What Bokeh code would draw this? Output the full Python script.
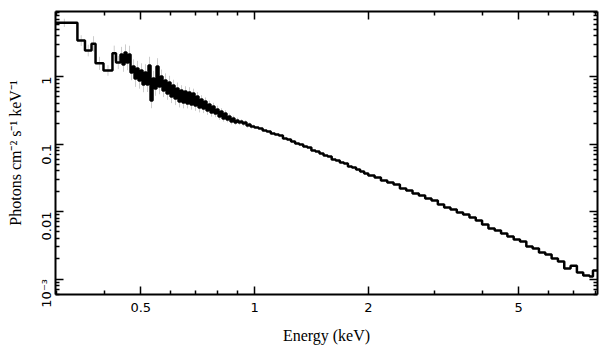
import math
import numpy as np
from bokeh.plotting import figure
from bokeh.models import FixedTicker, LogAxis, Range1d, CustomJSTickFormatter
from bokeh.embed import file_html
from bokeh.resources import INLINE

# ---- spectrum data (keV bin lower edges, photons cm^-2 s^-1 keV^-1) ----
lo_soft = [0.29, 0.340, 0.356, 0.3705, 0.3797, 0.3985, 0.4209, 0.4301]
flux_soft = [6.25, 3.41, 2.43, 3.05, 1.57, 1.23, 2.21, 1.61]

lo_mid = [0.4421, 0.4475, 0.4530, 0.4585, 0.4642, 0.4699, 0.4756, 0.4815, 0.4874, 0.4933,
          0.4994, 0.5055, 0.5117, 0.5180, 0.5243, 0.5308, 0.5373, 0.5439, 0.5505, 0.5573,
          0.5641, 0.5710, 0.5780, 0.5851, 0.5923, 0.5995, 0.6069, 0.6143, 0.6219, 0.6295,
          0.6372, 0.6450, 0.6529, 0.6609, 0.6690, 0.6772, 0.6855, 0.6939, 0.7024, 0.7110,
          0.7197, 0.7286, 0.7375, 0.7465, 0.7557, 0.7650, 0.7743, 0.7838, 0.7934, 0.8032,
          0.8130, 0.8230, 0.8330, 0.8432, 0.8536, 0.8640, 0.8746, 0.8853, 0.8962, 0.9072,
          0.9183, 0.9296, 0.9410, 0.9525, 0.9642, 0.9760, 0.9880]
flux_mid = [2.118, 1.506, 2.268, 1.612, 2.118, 1.146, 1.406, 0.934, 1.314, 0.872,
            1.227, 0.761, 1.146, 0.761, 1.455, 0.441, 0.934, 0.664, 1.406, 0.711,
            1.0, 0.620, 0.872, 0.560, 0.815, 0.505, 0.736, 0.472, 0.664, 0.426,
            0.620, 0.412, 0.5995, 0.398, 0.579, 0.385, 0.560, 0.372, 0.505, 0.347,
            0.456, 0.336, 0.426, 0.3135, 0.385, 0.293, 0.359, 0.283, 0.3245, 0.2555,
            0.303, 0.2387, 0.283, 0.2307, 0.2555, 0.2154, 0.2387, 0.2083, 0.2229, 0.2083,
            0.2154, 0.2012, 0.2083, 0.1879, 0.1945, 0.1816, 0.1816]

lo_hard1 = [1.0, 1.0251, 1.0507, 1.0770, 1.1040, 1.1317, 1.1600, 1.1891, 1.2189, 1.2494,
            1.2807, 1.3128, 1.3457, 1.3794, 1.4140, 1.4494, 1.4857, 1.5229, 1.5611, 1.6002,
            1.6403, 1.6814, 1.7235, 1.7667, 1.8110, 1.8563, 1.9028, 1.9505]
flux_hard1 = [0.1756, 0.1697, 0.1585, 0.1532, 0.1430, 0.1382, 0.1336, 0.1206, 0.1166, 0.1089,
              0.1017, 0.0983, 0.0918, 0.0887, 0.0801, 0.0774, 0.0723, 0.0675, 0.0653, 0.0589,
              0.0569, 0.0532, 0.0514, 0.0464, 0.0449, 0.0419, 0.0391, 0.0366]

lo_hard2 = [2.0, 2.0785, 2.1601, 2.2449, 2.3330, 2.4246, 2.5198, 2.6187, 2.7215, 2.8284,
            2.9395, 3.0549, 3.1748, 3.2995, 3.4290, 3.5636, 3.7035, 3.8489, 4.0, 4.1570,
            4.3203, 4.4898, 4.6661, 4.8492, 5.0397, 5.2375, 5.4431, 5.6569, 5.8789, 6.1097,
            6.3496, 6.5988, 6.8579, 7.1271, 7.4069, 7.6977, 7.86]
flux_hard2 = [0.03415, 0.03189, 0.02879, 0.02690, 0.02512, 0.02191, 0.02047, 0.01848, 0.01726, 0.01558,
              0.01455, 0.01270, 0.01147, 0.01071, 0.00966, 0.00903, 0.00815, 0.00736, 0.00642, 0.00560,
              0.00523, 0.00472, 0.00426, 0.00385, 0.00359, 0.00303, 0.00283, 0.00247, 0.00231, 0.00201,
              0.00182, 0.00143, 0.00158, 0.00125, 0.00113, 0.00109, 0.00134]
hi_last = 8.1

# relative 1-sigma errors of the soft/noisy bins (light grey bars)
err_soft = [0.15, 0.2, 0.22, 0.3, 0.25, 0.2, 0.3, 0.25]
err_mid = [0.3, 0.28, 0.32, 0.3, 0.35, 0.3, 0.28, 0.33, 0.3, 0.32,
           0.28, 0.3, 0.33, 0.29, 0.35, 0.3, 0.3, 0.28, 0.33, 0.3,
           0.27, 0.25, 0.28, 0.24, 0.26, 0.25, 0.22, 0.25, 0.23, 0.22,
           0.2, 0.22, 0.2, 0.18, 0.2, 0.19, 0.18, 0.2, 0.17, 0.18,
           0.16, 0.17, 0.15, 0.16, 0.14, 0.15, 0.14, 0.13, 0.14, 0.12,
           0.12, 0.11, 0.12, 0.1, 0.11, 0.1, 0.1, 0.09, 0.1, 0.09,
           0.08, 0.09, 0.08, 0.08, 0.07, 0.08, 0.07]

x_ticks = [0.5, 1, 2, 5]
x_labels = ["0.5", "1", "2", "5"]
x_minor = [0.3, 0.4, 0.6, 0.7, 0.8, 0.9, 3, 4, 6, 7, 8]
y_ticks = [0.001, 0.01, 0.1, 1]
y_labels = ["10\u207b\u00b3", "0.01", "0.1", "1"]

# ---- build ----
bin_lo = lo_soft + lo_mid + lo_hard1 + lo_hard2
flux = flux_soft + flux_mid + flux_hard1 + flux_hard2
edges = bin_lo + [hi_last]
err = err_soft + err_mid

p = figure(width=609, height=357, x_axis_type="log", y_axis_type="log",
           x_range=Range1d(0.2975, 8.08), y_range=Range1d(5.9e-4, 9.2),
           output_backend="svg", toolbar_location=None,
           min_border_left=55, min_border_right=12, min_border_top=11, min_border_bottom=63)
p.grid.visible = False
p.outline_line_color = None
p.background_fill_color = "white"
p.border_fill_color = "white"

n = len(err)
lo_a = np.array(edges[:n]); hi_a = np.array(edges[1:n + 1])
xc = np.sqrt(lo_a * hi_a)
f = np.array(flux[:n]); e = np.array(err)
p.segment(x0=xc, y0=f / (1 + e), x1=xc, y1=f * (1 + e), line_color="#cccccc", line_width=1)

p.step(x=edges, y=flux + [flux[-1]], mode="after", line_color="black", line_width=2.5)

xt = FixedTicker(ticks=x_ticks, minor_ticks=x_minor)
ymin = [m * 10.0 ** k for k in range(-4, 1) for m in range(2, 10)]
yt = FixedTicker(ticks=y_ticks, minor_ticks=ymin)

def style(ax):
    ax.axis_line_color = "black"
    ax.axis_line_width = 2
    ax.major_tick_in = 8
    ax.major_tick_out = 0
    ax.minor_tick_in = 4
    ax.minor_tick_out = 0
    ax.major_tick_line_color = "black"
    ax.minor_tick_line_color = "black"
    ax.major_tick_line_width = 1.5
    ax.minor_tick_line_width = 1.5
    ax.major_label_text_font = "DejaVu Sans"
    ax.major_label_text_font_size = "13px"
    ax.major_label_text_color = "black"
    ax.axis_label_text_font = "Liberation Serif"
    ax.axis_label_text_font_size = "16px"
    ax.axis_label_text_font_style = "normal"
    ax.axis_label_text_color = "black"

xa = p.xaxis[0]
xa.ticker = xt
style(xa)
xa.major_label_overrides = dict(zip(x_ticks, x_labels))
xa.major_label_standoff = 8
xa.axis_label = "Energy (keV)"
xa.axis_label_standoff = 12

ya = p.yaxis[0]
ya.ticker = yt
style(ya)
ya.major_label_overrides = dict(zip(y_ticks, y_labels))
ya.major_label_orientation = math.pi / 2
ya.major_label_standoff = 9
ya.axis_label = "Photons cm\u207b\u00b2 s\u207b\u00b9 keV\u207b\u00b9"
ya.axis_label_standoff = 5

blank = CustomJSTickFormatter(code="return ''")

top = LogAxis(ticker=xt, formatter=blank)
style(top)
top.major_label_standoff = 0
top.major_label_text_font_size = "1px"
p.add_layout(top, "above")

right = LogAxis(ticker=yt, formatter=blank)
style(right)
right.major_label_standoff = 0
right.major_label_text_font_size = "1px"
p.add_layout(right, "right")

open("out.html", "w").write(file_html(p, INLINE))
